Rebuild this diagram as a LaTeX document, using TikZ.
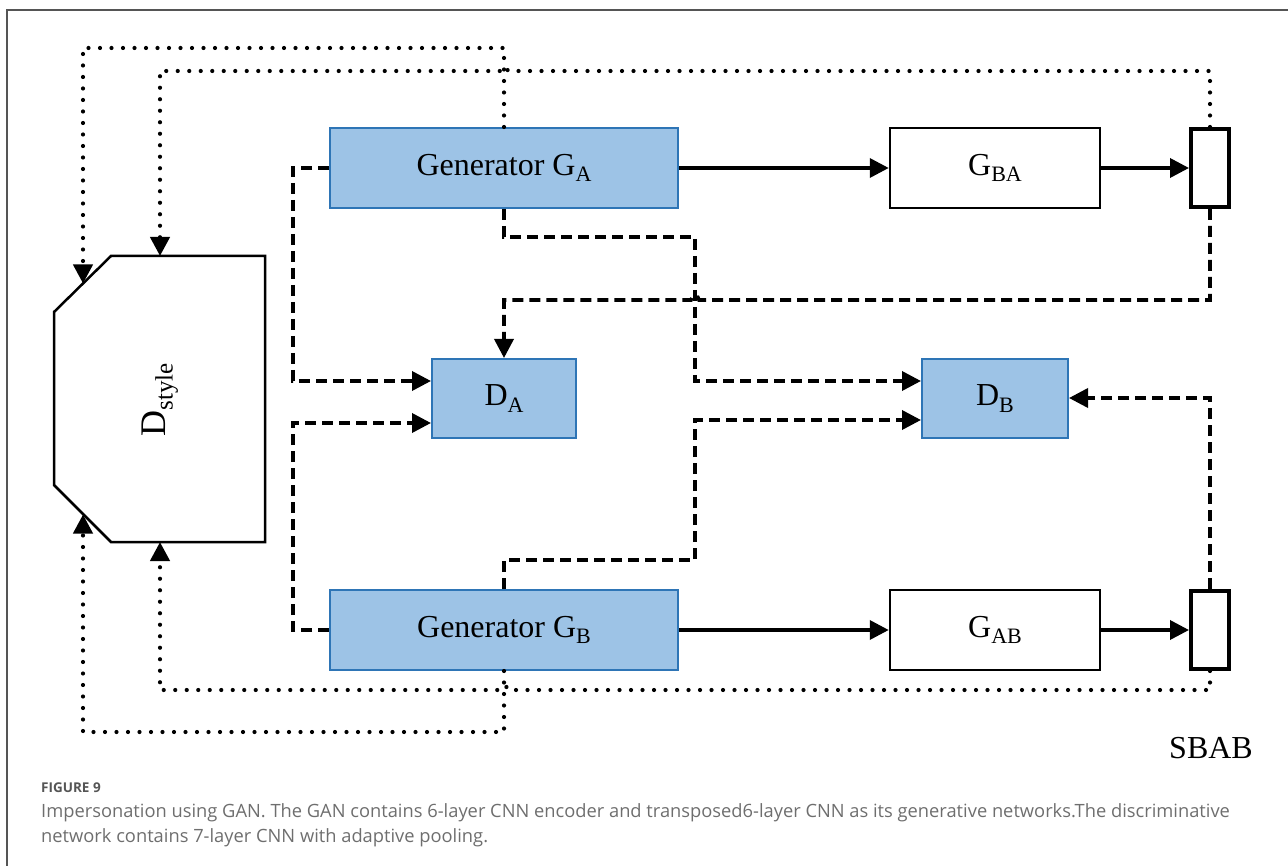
\documentclass[tikz,border=0pt]{standalone}
\usepackage{fontspec}
\setmainfont{Liberation Serif}
\newfontfamily\capfont{Open Sans}
\usetikzlibrary{arrows.meta}
\definecolor{boxblue}{HTML}{9DC3E6}
\definecolor{edgeblue}{HTML}{2E75B6}
\definecolor{capgray}{HTML}{6E6E6E}
\definecolor{framegray}{HTML}{555555}
% label with a lowered subscript
\newcommand\lbl[2]{#1\raisebox{-0.2em}{\fontsize{22}{22}\selectfont #2}}

\begin{document}
\begin{tikzpicture}[x=1pt,y=-1pt,
  blk/.style={rectangle, draw=black, line width=2.5pt, fill=white, inner sep=0pt,
              font=\fontsize{32}{36}\selectfont},
  gen/.style={blk, draw=edgeblue, line width=2pt, fill=boxblue},
  tap/.style={rectangle, draw=black, line width=4pt, fill=white, inner sep=0pt,
              minimum width=38pt, minimum height=78pt},
  tip/.style={-{Triangle[length=19pt,width=19pt]}},
  flow/.style={line width=3.6pt, tip},
  dash line/.style={line width=3.6pt, dash pattern=on 11pt off 6pt, tip},
  dot line/.style={line width=4.2pt, line cap=round, dash pattern=on 0pt off 11.5pt, tip},
  plain text/.style={inner sep=0pt, font=\fontsize{32}{36}\selectfont}
]
\useasboundingbox (0,0) rectangle (1288,866);

% outer frame
\draw[framegray, line width=2pt] (1288,10) -- (7,10) -- (7,866);

% generators and mapping blocks
\node[gen, minimum width=348pt, minimum height=80pt] (GA) at (504,168) {Generator \lbl{G}{A}};
\node[gen, minimum width=348pt, minimum height=80pt] (GB) at (504,630) {Generator \lbl{G}{B}};
\node[blk, minimum width=210pt, minimum height=80pt] (GBA) at (995,168) {\lbl{G}{BA}};
\node[blk, minimum width=210pt, minimum height=80pt] (GAB) at (995,630) {\lbl{G}{AB}};
\node[tap] (RA) at (1210,168) {};
\node[tap] (RB) at (1210,630) {};

% discriminators
\node[gen, minimum width=144pt, minimum height=79pt] (DA) at (504,398.5) {\lbl{D}{A}};
\node[gen, minimum width=146pt, minimum height=79pt] (DB) at (995,398.5) {\lbl{D}{B}};

% style discriminator (chamfered block)
\draw[line width=2.5pt, fill=white] (111,256) -- (265,256) -- (265,542) -- (111,542)
  -- (54,485) -- (54,312) -- cycle;
\node[inner sep=0pt, rotate=90, font=\fontsize{36}{40}\selectfont] (DS) at (160,400)
  {D\raisebox{-0.2em}{\fontsize{25}{25}\selectfont style}};
\coordinate (dsTL) at (83,283.5);
\coordinate (dsT) at (160,256);
\coordinate (dsBL) at (83,514.5);
\coordinate (dsB) at (160,542);

% solid data flow
\draw[flow] (GA.east) -- (GBA.west);
\draw[flow] (GBA.east) -- (RA.west);
\draw[flow] (GB.east) -- (GAB.west);
\draw[flow] (GAB.east) -- (RB.west);

% dashed connections into the discriminators
\draw[dash line] (GA.west) -- (293,168) -- (293,381) -- (DA.west |- 0,381);
\draw[dash line] (GB.west) -- (293,630) -- (293,423) -- (DA.west |- 0,423);
\draw[dash line] (GA.south) -- (504,237) -- (695,237) -- (695,381) -- (DB.west |- 0,381);
\draw[dash line] (GB.north) -- (504,560) -- (695,560) -- (695,420) -- (DB.west |- 0,420);
\draw[dash line] (RA.south) -- (1210,300) -- (699,300)
  arc[start angle=0, end angle=180, radius=4pt] -- (504,300) -- (DA.north);
\draw[dash line] (RB.north) -- (1210,398) -- (DB.east |- 0,398);

% dotted feedback into the style discriminator
\draw[dot line] (GA.north) -- (504,48) -- (83,48) -- (dsTL);
\draw[dot line] (RA.north) -- (1210,71) -- (508,71)
  arc[start angle=0, end angle=180, radius=4pt] -- (160,71) -- (dsT);
\draw[dot line] (GB.south) -- (504,732) -- (83,732) -- (dsBL);
\draw[dot line] (RB.south) -- (1210,690) -- (508,690)
  arc[start angle=0, end angle=180, radius=4pt] -- (160,690) -- (dsB);

% corner tag
\node[plain text] (tag) at (1211,748) {SBAB};

% caption
\node[anchor=base west, inner sep=0pt, text=framegray, font=\capfont\bfseries\fontsize{13.5}{16}\selectfont]
  (fig) at (41,792) {FIGURE 9};
\node[anchor=base west, inner sep=0pt, text=capgray, font=\capfont\fontsize{18.3}{22}\selectfont]
  (cap1) at (41,817) {Impersonation using GAN. The GAN contains 6-layer CNN encoder and transposed6-layer CNN as its generative networks.The discriminative};
\node[anchor=base west, inner sep=0pt, text=capgray, font=\capfont\fontsize{18.3}{22}\selectfont]
  (cap2) at (41,842) {network contains 7-layer CNN with adaptive pooling.};
\end{tikzpicture}
\end{document}
